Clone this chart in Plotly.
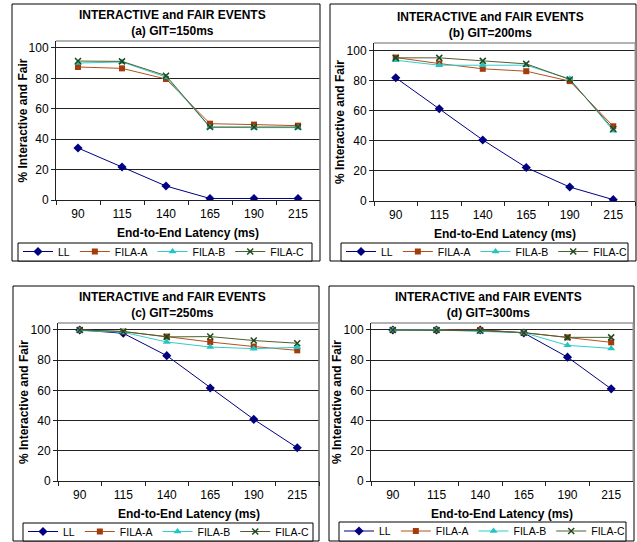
import plotly.graph_objects as go

# ---------------- data ----------------
latency = ["90", "115", "140", "165", "190", "215"]
series_names = ["LL", "FILA-A", "FILA-B", "FILA-C"]
panel_titles = ["(a) GIT=150ms", "(b) GIT=200ms", "(c) GIT=250ms", "(d) GIT=300ms"]

git150_LL = [34.2, 21.7, 9.2, 1.0, 1.0, 1.0]
git150_FILA_A = [87.5, 86.6, 79.6, 50.2, 49.6, 48.9]
git150_FILA_B = [90.1, 90.8, 80.9, 47.8, 47.6, 47.6]
git150_FILA_C = [91.4, 91.2, 81.8, 48.0, 48.0, 48.0]

git200_LL = [82.1, 61.5, 40.7, 22.3, 9.3, 0.9]
git200_FILA_A = [95.6, 91.6, 88.1, 86.5, 79.9, 49.8]
git200_FILA_B = [93.8, 90.5, 90.5, 90.5, 81.4, 46.9]
git200_FILA_C = [95.4, 95.4, 93.4, 91.4, 81.0, 48.0]

git250_LL = [100.0, 97.8, 83.0, 61.6, 40.8, 22.0]
git250_FILA_A = [100.0, 98.9, 95.6, 92.0, 89.0, 86.5]
git250_FILA_B = [99.6, 98.5, 92.0, 88.7, 87.6, 88.5]
git250_FILA_C = [100.0, 99.0, 95.4, 95.6, 93.0, 91.2]

git300_LL = [100.0, 100.0, 100.0, 98.0, 82.0, 61.0]
git300_FILA_A = [100.0, 100.0, 100.0, 98.2, 95.1, 91.8]
git300_FILA_B = [100.0, 100.0, 99.0, 98.2, 89.8, 87.8]
git300_FILA_C = [100.0, 100.0, 99.5, 98.2, 95.1, 95.1]

y_ticks = [0, 20, 40, 60, 80, 100]

panels_data = [
    [git150_LL, git150_FILA_A, git150_FILA_B, git150_FILA_C],
    [git200_LL, git200_FILA_A, git200_FILA_B, git200_FILA_C],
    [git250_LL, git250_FILA_A, git250_FILA_B, git250_FILA_C],
    [git300_LL, git300_FILA_A, git300_FILA_B, git300_FILA_C],
]

# ---------------- styles ----------------
W, H = 637, 542
FONT = "Liberation Sans, Arial, sans-serif"
styles = [
    dict(line=dict(color="#000080", width=1), marker=dict(symbol="diamond", size=7, color="#000080")),
    dict(line=dict(color="#B5501E", width=1), marker=dict(symbol="square", size=6, color="#A53A0A")),
    dict(line=dict(color="#33CCCC", width=1), marker=dict(symbol="triangle-up", size=7, color="#22C4C4")),
    dict(line=dict(color="#4F6030", width=1), marker=dict(symbol="x-thin", size=6, color="#1E4A1E",
                                                           line=dict(width=1.5, color="#1E4A1E"))),
]

# pixel geometry of each panel
geo = [
    dict(box=(12, 4, 320, 261), plot=(56, 320, 41, 200), ymax=104.6,
         legbox=(18, 243, 312, 261), tc=(172, 23)),
    dict(box=(330, 4, 636, 261), plot=(374, 635, 43, 201), ymax=105.3,
         legbox=(341, 243, 628, 261), tc=(490, 25)),
    dict(box=(13, 286, 319, 541), plot=(58, 319, 323, 481), ymax=104.6,
         legbox=(23, 523, 313, 541), tc=(172, 305)),
    dict(box=(329, 286, 634, 541), plot=(371, 633, 323, 481), ymax=104.6,
         legbox=(339, 522, 626, 541), tc=(488, 305)),
]

def px(x):
    return x / W

def py(y):
    return 1 - y / H

fig = go.Figure()
shapes = []
annotations = []
layout = {}

for i, (data, g) in enumerate(zip(panels_data, geo)):
    n = "" if i == 0 else str(i + 1)
    xa, ya = "xaxis" + n, "yaxis" + n
    xr, yr = "x" + n, "y" + n
    lg = "legend" + n
    x0, x1, yt, yb = g["plot"]
    for name, vals, st in zip(series_names, data, styles):
        fig.add_trace(go.Scatter(
            x=latency, y=vals, name=name, mode="lines+markers",
            xaxis=xr, yaxis=yr, legend=lg, line=st["line"], marker=st["marker"],
        ))
    layout[xa] = dict(
        domain=[px(x0), px(x1)], anchor=yr, type="category", range=[-0.5, 5.5],
        tickson="boundaries", ticks="outside", ticklen=4, tickcolor="#222",
        showline=True, linecolor="#222", linewidth=1, showgrid=False,
        tickfont=dict(family=FONT, size=12, color="black"), ticklabelstandoff=3,
        fixedrange=True,
    )
    layout[ya] = dict(
        domain=[py(yb), py(yt)], anchor=xr, range=[0, g["ymax"]],
        tickvals=y_ticks, ticks="outside", ticklen=4, tickcolor="#222",
        showline=True, linecolor="#222", linewidth=1, showgrid=True,
        gridcolor="#222", gridwidth=1, zeroline=False,
        tickfont=dict(family=FONT, size=12, color="black"),
        fixedrange=True,
    )
    lx0, ly0, lx1, ly1 = g["legbox"]
    layout[lg] = dict(
        orientation="h", x=px(lx0), y=py((ly0 + ly1) / 2 - 15), xanchor="left", yanchor="top",
        borderwidth=0, bgcolor="rgba(0,0,0,0)",
        font=dict(family=FONT, size=10.5, color="black"), itemwidth=30,
    )
    shapes.append(dict(type="rect", xref="paper", yref="paper", x0=px(lx0), x1=px(lx1),
                       y0=py(ly1), y1=py(ly0), line=dict(color="black", width=1),
                       fillcolor="white", layer="above"))
    bx0, by0, bx1, by1 = g["box"]
    shapes.append(dict(type="rect", xref="paper", yref="paper", x0=px(bx0), x1=px(bx1),
                       y0=py(by1), y1=py(by0), line=dict(color="black", width=1), layer="below"))
    # grey plot-area border on top and right
    shapes.append(dict(type="line", xref=xr + " domain", yref=yr + " domain", x0=0, x1=1, y0=1, y1=1,
                       line=dict(color="#999", width=1.5)))
    shapes.append(dict(type="line", xref=xr + " domain", yref=yr + " domain", x0=1, x1=1, y0=0, y1=1,
                       line=dict(color="#999", width=1)))
    # titles
    annotations.append(dict(xref="paper", yref="paper", x=px(g["tc"][0]), y=py(g["tc"][1]),
                            text="INTERACTIVE and FAIR EVENTS<br>" + panel_titles[i],
                            showarrow=False, xanchor="center", yanchor="middle",
                            font=dict(family=FONT, size=12, color="black", weight="bold")))
    annotations.append(dict(xref="paper", yref="paper", x=px((x0 + x1) / 2), y=py(yb + 33),
                            text="End-to-End Latency (ms)", showarrow=False,
                            xanchor="center", yanchor="middle",
                            font=dict(family=FONT, size=12, color="black", weight="bold")))
    annotations.append(dict(xref="paper", yref="paper", x=px(x0 - 34), y=py((yt + yb) / 2),
                            text="% Interactive and Fair", showarrow=False, textangle=-90,
                            xanchor="center", yanchor="middle",
                            font=dict(family=FONT, size=12, color="black", weight="bold")))

fig.update_layout(
    width=W, height=H, autosize=False,
    margin=dict(l=0, r=0, t=0, b=0, autoexpand=False),
    paper_bgcolor="white", plot_bgcolor="white",
    shapes=shapes, annotations=annotations,
    font=dict(family=FONT, size=12, color="black"),
    **layout,
)

fig.write_html("out.html", config={"displayModeBar": False},
               post_script="document.body.style.margin='0';")
